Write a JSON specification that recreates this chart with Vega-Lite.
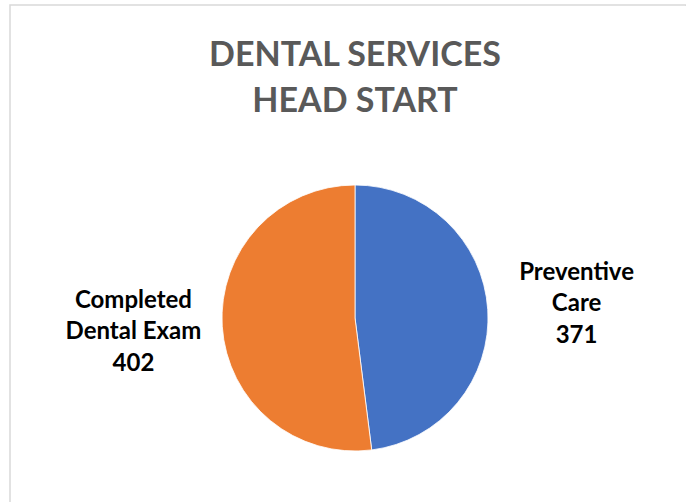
{
  "$schema": "https://vega.github.io/schema/vega-lite/v6.json",
  "width": 676,
  "height": 497,
  "autosize": {"type": "none"},
  "padding": {"left": 10, "top": 5, "right": 0, "bottom": 0},
  "background": "white",
  "view": {"stroke": "#d9d9d9", "strokeWidth": 1.5, "strokeDash": [677, 1172, 498, 1]},
  "title": {
    "text": ["DENTAL SERVICES", "HEAD START"],
    "font": "Lato",
    "fontSize": 34,
    "fontWeight": "bold",
    "color": "#595959",
    "anchor": "middle",
    "baseline": "alphabetic",
    "lineHeight": 45.7,
    "offset": -141,
    "dx": 7
  },
  "data": {
    "values": [
      {"category": "Preventive Care", "label": "Preventive\nCare", "value": 371},
      {"category": "Completed Dental Exam", "label": "Completed\nDental Exam", "value": 402}
    ]
  },
  "transform": [{"calculate": "datum.label + '\\n' + datum.value", "as": "text"}],
  "encoding": {
    "theta": {"field": "value", "type": "quantitative", "stack": true},
    "order": {"field": "category", "type": "nominal", "sort": "descending"}
  },
  "layer": [
    {
      "mark": {"type": "arc", "radius": 133, "xOffset": 7, "yOffset": 64.5, "stroke": "white", "strokeWidth": 0.8},
      "encoding": {
        "color": {
          "field": "category",
          "type": "nominal",
          "scale": {"domain": ["Preventive Care", "Completed Dental Exam"], "range": ["#4472C4", "#ED7D31"]},
          "legend": null
        }
      }
    },
    {
      "mark": {"type": "text", "radius": 222, "xOffset": 7, "yOffset": 64.5, "dy": -31, "font": "Lato", "fontSize": 24, "fontWeight": "bold", "color": "#000000", "lineBreak": "\n", "lineHeight": 31.3, "align": "center", "baseline": "middle"},
      "encoding": {"text": {"field": "text", "type": "nominal"}}
    }
  ]
}
